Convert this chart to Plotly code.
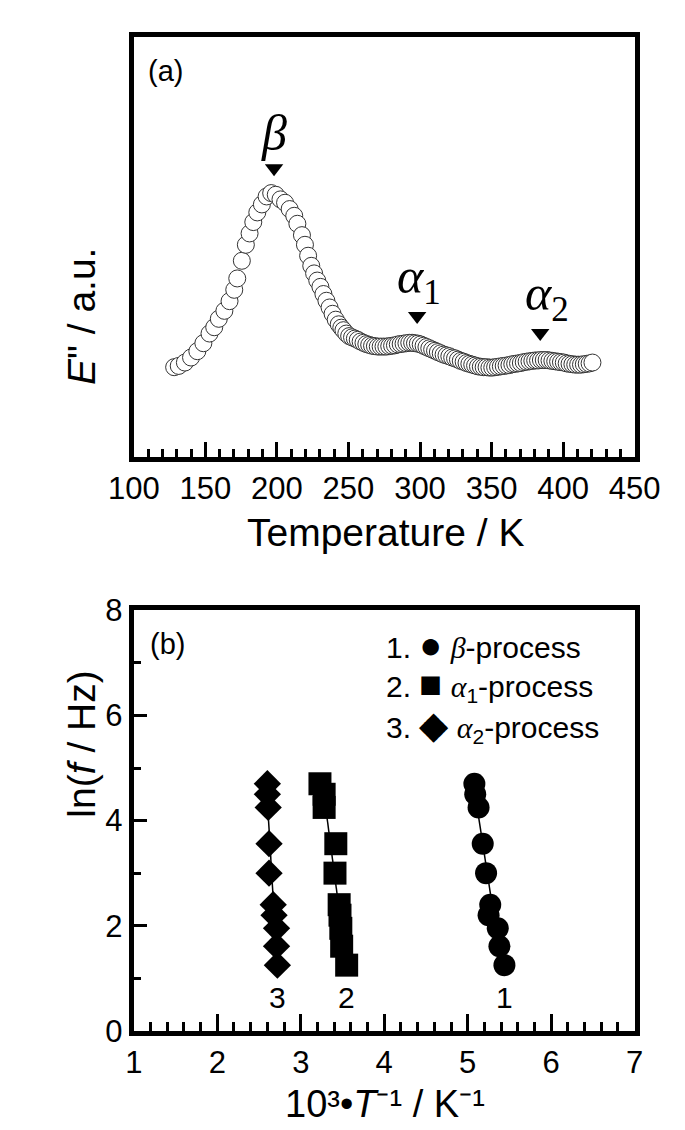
import numpy as np
import plotly.graph_objects as go

# ---- panel (a): E'' vs temperature ----
temp_K = [128.2, 131.4, 135.7, 140.0, 144.4, 148.6, 152.9, 156.2, 159.4, 163.3,
          166.9, 170.2, 172.3, 175.5, 178.3, 180.9, 183.5, 186.3, 189.5, 192.8,
          196.0, 199.2, 202.5, 205.7, 208.9, 212.1, 214.3, 217.5, 219.6, 221.8,
          224.0, 226.0, 228.2, 230.4, 232.5, 234.6, 236.8, 238.9, 241.1, 243.2,
          245.0, 246.5, 248.5, 250.5, 252.5, 254.5, 256.5, 258.5, 260.5, 262.5,
          264.5, 266.5, 268.5, 270.5, 272.5, 274.5, 276.5, 278.5, 280.5, 282.5,
          284.5, 286.5, 288.5, 290.5, 292.5, 294.5, 296.5, 298.5, 300.5, 302.5,
          304.5, 306.5, 308.5, 310.5, 312.5, 314.5, 316.5, 318.5, 320.5, 322.5,
          324.5, 326.5, 328.5, 330.5, 332.5, 334.5, 336.5, 338.5, 340.5, 342.5,
          344.5, 346.5, 348.5, 350.5, 352.5, 354.5, 356.5, 358.5, 360.5, 362.5,
          364.5, 366.5, 368.5, 370.5, 372.5, 374.5, 376.5, 378.5, 380.5, 382.5,
          384.5, 386.5, 388.5, 390.5, 392.5, 394.5, 396.5, 398.5, 400.5, 402.5,
          404.5, 406.5, 408.5, 410.5, 412.5, 414.5, 416.5, 418.5, 420.5]
e_loss = [0.214, 0.217, 0.225, 0.237, 0.252, 0.271, 0.294, 0.309, 0.329, 0.348,
          0.371, 0.398, 0.425, 0.467, 0.505, 0.532, 0.559, 0.582, 0.601, 0.620,
          0.628, 0.624, 0.613, 0.605, 0.590, 0.574, 0.555, 0.528, 0.505, 0.479,
          0.455, 0.437, 0.420, 0.405, 0.388, 0.372, 0.356, 0.341, 0.327, 0.316,
          0.308, 0.302, 0.294, 0.288, 0.285, 0.282, 0.279, 0.275, 0.272, 0.269,
          0.267, 0.265, 0.264, 0.263, 0.263, 0.263, 0.263, 0.264, 0.265, 0.266,
          0.268, 0.269, 0.270, 0.271, 0.272, 0.272, 0.271, 0.270, 0.268, 0.265,
          0.262, 0.259, 0.256, 0.253, 0.250, 0.247, 0.244, 0.242, 0.240, 0.237,
          0.235, 0.232, 0.229, 0.227, 0.224, 0.222, 0.220, 0.218, 0.216, 0.215,
          0.214, 0.214, 0.213, 0.213, 0.214, 0.215, 0.216, 0.217, 0.218, 0.219,
          0.221, 0.222, 0.223, 0.224, 0.226, 0.227, 0.228, 0.229, 0.230, 0.230,
          0.231, 0.231, 0.231, 0.230, 0.229, 0.228, 0.227, 0.226, 0.225, 0.223,
          0.222, 0.221, 0.220, 0.220, 0.220, 0.221, 0.222, 0.223, 0.225]

# relaxation peaks marked with arrows
peak_T = [198, 298, 384]
peak_E = [0.687, 0.336, 0.295]
peak_names = ['<i>β</i>', '<i>α</i><sub>1</sub>', '<i>α</i><sub>2</sub>']

# ---- panel (b): Arrhenius plot ----
ln_f = [1.25, 1.61, 1.95, 2.20, 2.40, 3.00, 3.56, 4.25, 4.50, 4.70]
invT_beta = [5.44, 5.38, 5.36, 5.25, 5.27, 5.22, 5.18, 5.13, 5.09, 5.08]
invT_alpha1 = [3.55, 3.49, 3.48, 3.47, 3.46, 3.41, 3.42, 3.28, 3.28, 3.23]
invT_alpha2 = [2.72, 2.71, 2.71, 2.68, 2.67, 2.62, 2.62, 2.61, 2.60, 2.60]

W, H = 685, 1130
FONT = 'Liberation Sans, Arial, sans-serif'
GREEK = 'Liberation Serif, Times New Roman, serif'


def px(x):
    return x / W


def py(y):
    return 1 - y / H


fig = go.Figure()

# panel (a)
fig.add_trace(go.Scatter(
    x=temp_K, y=e_loss, mode='markers', xaxis='x', yaxis='y',
    marker=dict(symbol='circle', size=17, color='white',
                line=dict(color='#333', width=1)),
    showlegend=False,
))
fig.add_trace(go.Scatter(
    x=peak_T, y=peak_E, mode='markers', xaxis='x', yaxis='y',
    marker=dict(symbol='triangle-down', size=16, color='black'),
    showlegend=False,
))
shifts = [(0, 35), (2, 36), (7, 36)]
for t, e, name, (dx, dy) in zip(peak_T, peak_E, peak_names, shifts):
    fig.add_annotation(x=t, y=e, xref='x', yref='y', text=name, showarrow=False,
                       yanchor='middle', xshift=dx, yshift=dy,
                       font=dict(family=GREEK, size=50, color='black'))

# panel (b): fitted lines then points
series = [
    (invT_beta, 'circle', 22, '1'),
    (invT_alpha1, 'square', 23, '2'),
    (invT_alpha2, 'diamond', 21, '3'),
]
for xs, sym, size, lab in series:
    a, b = np.polyfit(ln_f, xs, 1)
    yl = np.array([min(ln_f), max(ln_f)])
    fig.add_trace(go.Scatter(
        x=a * yl + b, y=yl, mode='lines', xaxis='x2', yaxis='y2',
        line=dict(color='black', width=1.5), showlegend=False,
    ))
for xs, sym, size, lab in series:
    fig.add_trace(go.Scatter(
        x=xs, y=ln_f, mode='markers', xaxis='x2', yaxis='y2',
        marker=dict(symbol=sym, size=size, color='black'),
        showlegend=False,
    ))
    fig.add_annotation(x=xs[0], y=0.63, xref='x2', yref='y2', text=lab,
                       showarrow=False, font=dict(family=FONT, size=30, color='black'))

axis_common = dict(showline=True, mirror=True, linecolor='black', linewidth=5,
                   showgrid=False, zeroline=False,
                   tickfont=dict(family=FONT, size=31, color='black'))

dom_x = [px(108), px(650)]
fig.update_layout(
    width=W, height=H,
    margin=dict(l=0, r=0, t=0, b=0),
    paper_bgcolor='white', plot_bgcolor='white',
    font=dict(family=FONT, color='black'),
    xaxis=dict(domain=dom_x, anchor='y', range=[100, 450], tickvals=[100, 150, 200, 250, 300, 350, 400, 450],
               ticks='inside', ticklen=15, tickwidth=3, tickcolor='black',
               minor=dict(dtick=10, ticks='inside', ticklen=8, tickwidth=2.5, tickcolor='black'),
               **axis_common),
    yaxis=dict(domain=[py(446), py(12)], anchor='x', range=[0, 1],
               showticklabels=False, ticks='', **axis_common),
    xaxis2=dict(domain=dom_x, anchor='y2', range=[1, 7], dtick=1,
                ticks='inside', ticklen=17, tickwidth=3, tickcolor='black',
                minor=dict(dtick=0.2, ticks='inside', ticklen=9, tickwidth=2.5, tickcolor='black'),
                **axis_common),
    yaxis2=dict(domain=[py(1038), py(604)], anchor='x2', range=[0, 8], dtick=2,
                ticks='inside', ticklen=13, tickwidth=3, tickcolor='black',
                minor=dict(dtick=1, ticks='inside', ticklen=7, tickwidth=2.5, tickcolor='black'),
                **axis_common),
)

SERIF_SPAN = '<span style="font-family:Liberation Serif"><i>{}</i></span>'
SYM_SPAN = '<span style="font-size:38px">{}</span>'
NB = '\u00a0'
legend_lines = [
    ('1.', '●', SERIF_SPAN.format('β') + '-process'),
    ('2.', '■', SERIF_SPAN.format('α') + '<sub>1</sub>-process'),
    ('3.', '◆', SERIF_SPAN.format('α') + '<sub>2</sub>-process'),
]

texts = [
    # panel labels
    dict(x=px(121), y=py(47), text='(a)', xanchor='left', size=29),
    dict(x=px(123), y=py(639), text='(b)', xanchor='left', size=29),
    # axis titles
    dict(x=px(380), y=py(524), text='Temperature / K', xanchor='center', size=39),
    dict(x=px(380), y=py(1113), text='10³•<i>T</i>⁻¹ / K⁻¹', xanchor='center', size=38),
]
for i, (num, sym, lab) in enumerate(legend_lines):
    texts.append(dict(x=px(379), y=py(640 + 41.5 * i),
                      text=num + NB + SYM_SPAN.format(sym) + NB + lab,
                      xanchor='left', size=30))

for t in texts:
    fig.add_annotation(x=t['x'], y=t['y'], xref='paper', yref='paper', text=t['text'],
                       xanchor=t['xanchor'], yanchor='middle', showarrow=False,
                       font=dict(family=FONT, size=t['size'], color='black'))

fig.add_annotation(x=px(26), y=py(228), xref='paper', yref='paper', text='<i>E</i>" / a.u.',
                   textangle=-90, showarrow=False, font=dict(family=FONT, size=39, color='black'))
fig.add_annotation(x=px(26), y=py(820), xref='paper', yref='paper', text='ln(<i>f</i> / Hz)',
                   textangle=-90, showarrow=False, font=dict(family=FONT, size=39, color='black'))

fig.write_html('out.html')
